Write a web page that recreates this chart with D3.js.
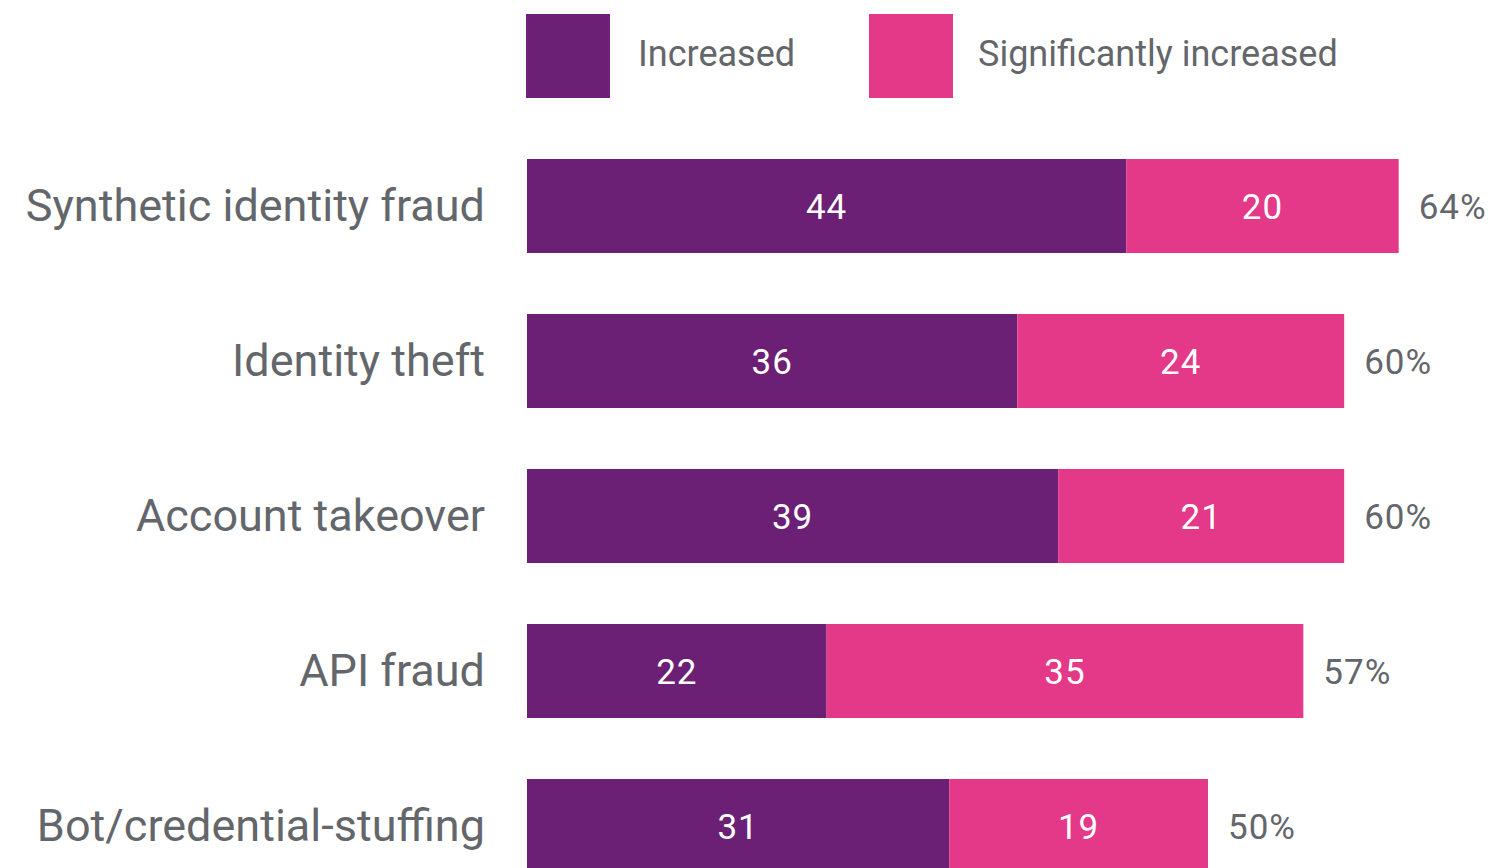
<!DOCTYPE html>
<html>
<head>
<meta charset="utf-8">
<script src="https://cdn.jsdelivr.net/npm/d3@7"></script>
<style>
  html, body { margin: 0; padding: 0; background: #fff; overflow: hidden; }
  text { font-family: Roboto, "DejaVu Sans", sans-serif; }
</style>
</head>
<body>
<div id="chart"></div>
<script>
const categories = ["Synthetic identity fraud", "Identity theft", "Account takeover", "API fraud", "Bot/credential-stuffing"];
const increased = [44, 36, 39, 22, 31];
const significantly = [20, 24, 21, 35, 19];
const totals = [64, 60, 60, 57, 50];
const seriesNames = ["Increased", "Significantly increased"];

const width = 1496, height = 868;
const colors = ["#6b1f75", "#e43888"];
const grey = "#63666a";

const svg = d3.select("#chart").append("svg")
  .attr("width", width)
  .attr("height", height);

// Scales
const x = d3.scaleLinear().domain([0, 100]).range([527, 1889]);
const y = d3.scaleBand()
  .domain(categories)
  .range([159, 159 + 155 * 5 - 61])
  .paddingInner(61 / 155)
  .paddingOuter(0);

const rows = categories.map((c, i) => ({
  cat: c, a: increased[i], b: significantly[i], total: totals[i]
}));

// Legend
const legend = svg.append("g");
[[526, 638], [869, 978]].forEach(([sx, tx], i) => {
  legend.append("rect")
    .attr("x", sx).attr("y", 14)
    .attr("width", 84).attr("height", 84)
    .attr("fill", colors[i]);
  legend.append("text")
    .attr("x", tx).attr("y", 66)
    .attr("font-size", 36)
    .attr("fill", grey)
    .text(seriesNames[i]);
});

// Bars
const g = svg.selectAll(".row").data(rows).enter().append("g").attr("class", "row");

g.append("rect")
  .attr("x", x(0))
  .attr("y", d => y(d.cat))
  .attr("width", d => x(d.a) - x(0))
  .attr("height", y.bandwidth())
  .attr("fill", colors[0]);

g.append("rect")
  .attr("x", d => x(d.a))
  .attr("y", d => y(d.cat))
  .attr("width", d => x(d.a + d.b) - x(d.a))
  .attr("height", y.bandwidth())
  .attr("fill", colors[1]);

const mid = d => y(d.cat) + y.bandwidth() / 2;

g.append("text")
  .attr("x", d => (x(0) + x(d.a)) / 2)
  .attr("y", mid)
  .attr("dy", "0.36em")
  .attr("text-anchor", "middle")
  .attr("font-size", 35)
  .attr("letter-spacing", 1)
  .attr("fill", "#fff")
  .text(d => d.a);

g.append("text")
  .attr("x", d => (x(d.a) + x(d.a + d.b)) / 2)
  .attr("y", mid)
  .attr("dy", "0.36em")
  .attr("text-anchor", "middle")
  .attr("font-size", 35)
  .attr("letter-spacing", 1)
  .attr("fill", "#fff")
  .text(d => d.b);

g.append("text")
  .attr("x", d => x(d.a + d.b) + 20)
  .attr("y", mid)
  .attr("dy", "0.36em")
  .attr("font-size", 35)
  .attr("letter-spacing", 1)
  .attr("fill", grey)
  .text(d => d.total + "%");

// Category labels
g.append("text")
  .attr("x", 485)
  .attr("y", mid)
  .attr("dy", "0.34em")
  .attr("text-anchor", "end")
  .attr("font-size", 45)
  .attr("fill", grey)
  .text(d => d.cat);
</script>
</body>
</html>
